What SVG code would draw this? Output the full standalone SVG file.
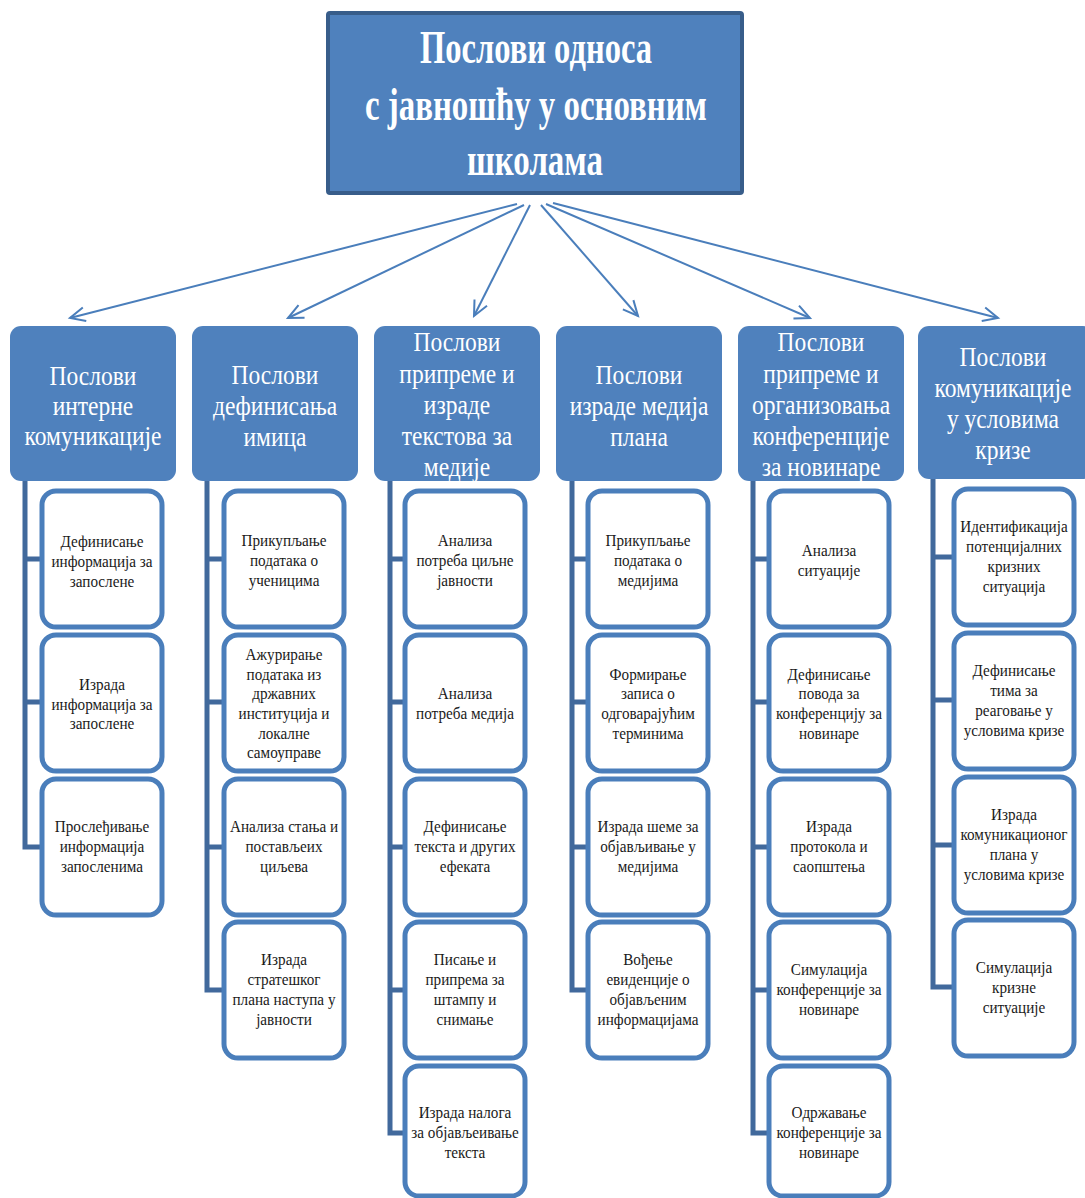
<svg xmlns="http://www.w3.org/2000/svg" width="1085" height="1198" viewBox="0 0 1085 1198">
<style>
.bg{fill:#ffffff}
.top{fill:#4F81BD;stroke:#385D8A;stroke-width:4}
.hdr{fill:#4F81BD}
.child{fill:#ffffff;stroke:#4A7EBB;stroke-width:5}
.spine{fill:none;stroke:#41699C;stroke-width:5}
.conn{fill:none;stroke:#4A7EBB;stroke-width:2;marker-end:url(#arr)}
.tt{font-family:"Liberation Serif","Times New Roman",serif;font-weight:bold;font-size:46px;fill:#ffffff}
.ht{font-family:"Liberation Serif","Times New Roman",serif;font-size:27px;fill:#ffffff;text-anchor:middle}
.ct{font-family:"Liberation Serif","Times New Roman",serif;font-size:16px;fill:#1a1a1a;text-anchor:middle}
</style>
<defs>
<marker id="arr" markerUnits="userSpaceOnUse" markerWidth="20" markerHeight="20" viewBox="0 0 20 20" refX="17" refY="10" orient="auto">
<path d="M2,3 L17,10 L2,17" fill="none" stroke="#4A7EBB" stroke-width="2"/>
</marker>
</defs>
<rect class="bg" x="0" y="0" width="1085" height="1198"/>

<g id="connectors">
<line class="conn" x1="517" y1="204" x2="70" y2="318"/>
<line class="conn" x1="524" y1="205" x2="288" y2="318"/>
<line class="conn" x1="530" y1="205" x2="474" y2="316"/>
<line class="conn" x1="541" y1="205" x2="638" y2="316"/>
<line class="conn" x1="546" y1="204" x2="810" y2="318"/>
<line class="conn" x1="553" y1="203" x2="998" y2="318"/>
<path class="spine" d="M25,481 V847 H42 M25,559 H42 M25,702 H42"/>
<path class="spine" d="M207,481 V990 H224 M207,559 H224 M207,702 H224 M207,847 H224"/>
<path class="spine" d="M390,481 V1133 H405 M390,559 H405 M390,702 H405 M390,847 H405 M390,990 H405"/>
<path class="spine" d="M572,481 V990 H588 M572,559 H588 M572,702 H588 M572,847 H588"/>
<path class="spine" d="M753,481 V1133 H769 M753,559 H769 M753,702 H769 M753,847 H769 M753,990 H769"/>
<path class="spine" d="M933,479 V987 H954 M933,557 H954 M933,700 H954 M933,845 H954"/>
</g>

<g id="root">
<rect class="top" x="328" y="13" width="414" height="180" rx="2"/>
<text class="tt" x="420" y="63" textLength="232" lengthAdjust="spacingAndGlyphs">Послови односа</text>
<text class="tt" x="365" y="120" textLength="342" lengthAdjust="spacingAndGlyphs">с јавношћу у основним</text>
<text class="tt" x="467" y="175" textLength="136" lengthAdjust="spacingAndGlyphs">школама</text>
</g>

<g id="h1">
<rect class="hdr" x="10" y="326" width="166" height="155" rx="11"/>
<text class="ht" transform="translate(93,0) scale(0.87,1)"><tspan x="0" y="385">Послови</tspan><tspan x="0" y="415">интерне</tspan><tspan x="0" y="445">комуникације</tspan></text>
</g>
<g id="h2">
<rect class="hdr" x="192" y="326" width="166" height="155" rx="11"/>
<text class="ht" transform="translate(275,0) scale(0.87,1)"><tspan x="0" y="384">Послови</tspan><tspan x="0" y="415">дефинисања</tspan><tspan x="0" y="446">имица</tspan></text>
</g>
<g id="h3">
<rect class="hdr" x="374" y="326" width="166" height="155" rx="11"/>
<text class="ht" transform="translate(457,0) scale(0.87,1)"><tspan x="0" y="351">Послови</tspan><tspan x="0" y="383">припреме и</tspan><tspan x="0" y="414">израде</tspan><tspan x="0" y="445">текстова за</tspan><tspan x="0" y="476">медије</tspan></text>
</g>
<g id="h4">
<rect class="hdr" x="556" y="326" width="166" height="155" rx="11"/>
<text class="ht" transform="translate(639,0) scale(0.87,1)"><tspan x="0" y="384">Послови</tspan><tspan x="0" y="415">израде медија</tspan><tspan x="0" y="446">плана</tspan></text>
</g>
<g id="h5">
<rect class="hdr" x="738" y="326" width="166" height="155" rx="11"/>
<text class="ht" transform="translate(821,0) scale(0.87,1)"><tspan x="0" y="351">Послови</tspan><tspan x="0" y="383">припреме и</tspan><tspan x="0" y="414">организовања</tspan><tspan x="0" y="445">конференције</tspan><tspan x="0" y="476">за новинаре</tspan></text>
</g>
<g id="h6">
<rect class="hdr" x="918" y="326" width="176" height="153" rx="11"/>
<text class="ht" transform="translate(1003,0) scale(0.87,1)"><tspan x="0" y="366">Послови</tspan><tspan x="0" y="397">комуникације</tspan><tspan x="0" y="428">у условима</tspan><tspan x="0" y="459">кризе</tspan></text>
</g>

<g id="c1-1"><rect class="child" x="42" y="491" width="120" height="136" rx="14"/>
<text class="ct" transform="translate(102,0) scale(0.95,1)"><tspan x="0" y="547">Дефинисање</tspan><tspan x="0" y="567">информација за</tspan><tspan x="0" y="587">запослене</tspan></text></g>
<g id="c1-2"><rect class="child" x="42" y="635" width="120" height="136" rx="14"/>
<text class="ct" transform="translate(102,0) scale(0.95,1)"><tspan x="0" y="690">Израда</tspan><tspan x="0" y="710">информација за</tspan><tspan x="0" y="729">запослене</tspan></text></g>
<g id="c1-3"><rect class="child" x="42" y="779" width="120" height="136" rx="14"/>
<text class="ct" transform="translate(102,0) scale(0.95,1)"><tspan x="0" y="832">Прослеђивање</tspan><tspan x="0" y="852">информација</tspan><tspan x="0" y="872">запосленима</tspan></text></g>

<g id="c2-1"><rect class="child" x="224" y="491" width="120" height="136" rx="14"/>
<text class="ct" transform="translate(284,0) scale(0.95,1)"><tspan x="0" y="546">Прикупљање</tspan><tspan x="0" y="566">података о</tspan><tspan x="0" y="586">ученицима</tspan></text></g>
<g id="c2-2"><rect class="child" x="224" y="635" width="120" height="136" rx="14"/>
<text class="ct" transform="translate(284,0) scale(0.95,1)"><tspan x="0" y="660">Ажурирање</tspan><tspan x="0" y="680">података из</tspan><tspan x="0" y="699">државних</tspan><tspan x="0" y="719">институција и</tspan><tspan x="0" y="739">локалне</tspan><tspan x="0" y="758">самоуправе</tspan></text></g>
<g id="c2-3"><rect class="child" x="224" y="779" width="120" height="136" rx="14"/>
<text class="ct" transform="translate(284,0) scale(0.95,1)"><tspan x="0" y="832">Анализа стања и</tspan><tspan x="0" y="852">постављеих</tspan><tspan x="0" y="872">циљева</tspan></text></g>
<g id="c2-4"><rect class="child" x="224" y="922" width="120" height="136" rx="14"/>
<text class="ct" transform="translate(284,0) scale(0.95,1)"><tspan x="0" y="965">Израда</tspan><tspan x="0" y="985">стратешког</tspan><tspan x="0" y="1005">плана наступа у</tspan><tspan x="0" y="1025">јавности</tspan></text></g>

<g id="c3-1"><rect class="child" x="405" y="491" width="120" height="136" rx="14"/>
<text class="ct" transform="translate(465,0) scale(0.95,1)"><tspan x="0" y="546">Анализа</tspan><tspan x="0" y="566">потреба циљне</tspan><tspan x="0" y="586">јавности</tspan></text></g>
<g id="c3-2"><rect class="child" x="405" y="635" width="120" height="136" rx="14"/>
<text class="ct" transform="translate(465,0) scale(0.95,1)"><tspan x="0" y="699">Анализа</tspan><tspan x="0" y="719">потреба медија</tspan></text></g>
<g id="c3-3"><rect class="child" x="405" y="779" width="120" height="136" rx="14"/>
<text class="ct" transform="translate(465,0) scale(0.95,1)"><tspan x="0" y="832">Дефинисање</tspan><tspan x="0" y="852">текста и других</tspan><tspan x="0" y="872">ефеката</tspan></text></g>
<g id="c3-4"><rect class="child" x="405" y="922" width="120" height="136" rx="14"/>
<text class="ct" transform="translate(465,0) scale(0.95,1)"><tspan x="0" y="965">Писање и</tspan><tspan x="0" y="985">припрема за</tspan><tspan x="0" y="1005">штампу и</tspan><tspan x="0" y="1025">снимање</tspan></text></g>
<g id="c3-5"><rect class="child" x="405" y="1066" width="120" height="130" rx="14"/>
<text class="ct" transform="translate(465,0) scale(0.95,1)"><tspan x="0" y="1118">Израда налога</tspan><tspan x="0" y="1138">за објављеивање</tspan><tspan x="0" y="1158">текста</tspan></text></g>

<g id="c4-1"><rect class="child" x="588" y="491" width="120" height="136" rx="14"/>
<text class="ct" transform="translate(648,0) scale(0.95,1)"><tspan x="0" y="546">Прикупљање</tspan><tspan x="0" y="566">података о</tspan><tspan x="0" y="586">медијима</tspan></text></g>
<g id="c4-2"><rect class="child" x="588" y="635" width="120" height="136" rx="14"/>
<text class="ct" transform="translate(648,0) scale(0.95,1)"><tspan x="0" y="680">Формирање</tspan><tspan x="0" y="699">записа о</tspan><tspan x="0" y="719">одговарајућим</tspan><tspan x="0" y="739">терминима</tspan></text></g>
<g id="c4-3"><rect class="child" x="588" y="779" width="120" height="136" rx="14"/>
<text class="ct" transform="translate(648,0) scale(0.95,1)"><tspan x="0" y="832">Израда шеме за</tspan><tspan x="0" y="852">објављивање у</tspan><tspan x="0" y="872">медијима</tspan></text></g>
<g id="c4-4"><rect class="child" x="588" y="922" width="120" height="136" rx="14"/>
<text class="ct" transform="translate(648,0) scale(0.95,1)"><tspan x="0" y="965">Вођење</tspan><tspan x="0" y="985">евиденције о</tspan><tspan x="0" y="1005">објављеним</tspan><tspan x="0" y="1025">информацијама</tspan></text></g>

<g id="c5-1"><rect class="child" x="769" y="491" width="120" height="136" rx="14"/>
<text class="ct" transform="translate(829,0) scale(0.95,1)"><tspan x="0" y="556">Анализа</tspan><tspan x="0" y="576">ситуације</tspan></text></g>
<g id="c5-2"><rect class="child" x="769" y="635" width="120" height="136" rx="14"/>
<text class="ct" transform="translate(829,0) scale(0.95,1)"><tspan x="0" y="680">Дефинисање</tspan><tspan x="0" y="699">повода за</tspan><tspan x="0" y="719">конференцију за</tspan><tspan x="0" y="739">новинаре</tspan></text></g>
<g id="c5-3"><rect class="child" x="769" y="779" width="120" height="136" rx="14"/>
<text class="ct" transform="translate(829,0) scale(0.95,1)"><tspan x="0" y="832">Израда</tspan><tspan x="0" y="852">протокола и</tspan><tspan x="0" y="872">саопштења</tspan></text></g>
<g id="c5-4"><rect class="child" x="769" y="922" width="120" height="136" rx="14"/>
<text class="ct" transform="translate(829,0) scale(0.95,1)"><tspan x="0" y="975">Симулација</tspan><tspan x="0" y="995">конференције за</tspan><tspan x="0" y="1015">новинаре</tspan></text></g>
<g id="c5-5"><rect class="child" x="769" y="1066" width="120" height="130" rx="14"/>
<text class="ct" transform="translate(829,0) scale(0.95,1)"><tspan x="0" y="1118">Одржавање</tspan><tspan x="0" y="1138">конференције за</tspan><tspan x="0" y="1158">новинаре</tspan></text></g>

<g id="c6-1"><rect class="child" x="954" y="489" width="120" height="136" rx="14"/>
<text class="ct" transform="translate(1014,0) scale(0.95,1)"><tspan x="0" y="532">Идентификација</tspan><tspan x="0" y="552">потенцијалних</tspan><tspan x="0" y="572">кризних</tspan><tspan x="0" y="592">ситуација</tspan></text></g>
<g id="c6-2"><rect class="child" x="954" y="633" width="120" height="136" rx="14"/>
<text class="ct" transform="translate(1014,0) scale(0.95,1)"><tspan x="0" y="676">Дефинисање</tspan><tspan x="0" y="696">тима за</tspan><tspan x="0" y="716">реаговање у</tspan><tspan x="0" y="736">условима кризе</tspan></text></g>
<g id="c6-3"><rect class="child" x="954" y="777" width="120" height="136" rx="14"/>
<text class="ct" transform="translate(1014,0) scale(0.95,1)"><tspan x="0" y="820">Израда</tspan><tspan x="0" y="840">комуникационог</tspan><tspan x="0" y="860">плана у</tspan><tspan x="0" y="880">условима кризе</tspan></text></g>
<g id="c6-4"><rect class="child" x="954" y="920" width="120" height="136" rx="14"/>
<text class="ct" transform="translate(1014,0) scale(0.95,1)"><tspan x="0" y="973">Симулација</tspan><tspan x="0" y="993">кризне</tspan><tspan x="0" y="1013">ситуације</tspan></text></g>
</svg>
